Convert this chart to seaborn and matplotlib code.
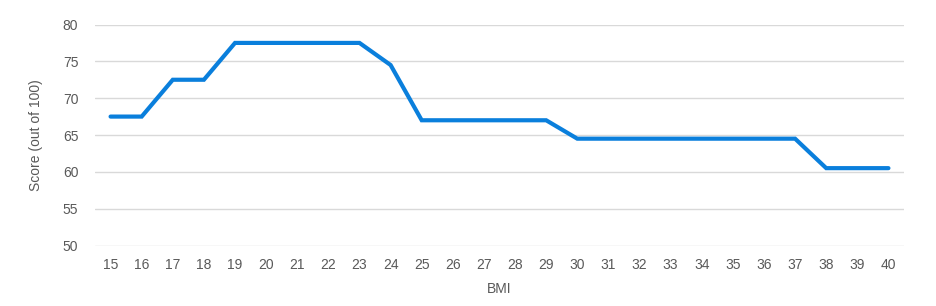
import matplotlib
matplotlib.use("Agg")
import matplotlib.pyplot as plt
import seaborn as sns
import pandas as pd

bmi = list(range(15, 41))
score = [67.5, 67.5, 72.5, 72.5, 77.5, 77.5, 77.5, 77.5, 77.5, 74.5,
         67, 67, 67, 67, 67, 64.5, 64.5, 64.5, 64.5, 64.5, 64.5, 64.5, 64.5,
         60.5, 60.5, 60.5]
y_ticks = [50, 55, 60, 65, 70, 75, 80]

sns.set_theme(style="white")
plt.rcParams['font.family'] = ['Liberation Sans', 'DejaVu Sans']

df = pd.DataFrame({"BMI": [str(b) for b in bmi], "pos": range(len(bmi)), "Score": score})

W, H = 937, 306
fig = plt.figure(figsize=(W / 100, H / 100), dpi=100)
ax = fig.add_axes([95 / W, 1 - 245.5 / H, (904 - 95) / W, (245.5 - 24.5) / H])

for t in y_ticks:
    ax.axhline(t, color="#D9D9D9", lw=1.0, zorder=0)

sns.lineplot(data=df, x="pos", y="Score", ax=ax, color="#0A7FDC", lw=3.0,
             solid_capstyle="round", solid_joinstyle="miter", zorder=3)

ax.set_xlim(-0.5, len(bmi) - 0.5)
ax.set_ylim(50, 80)
ax.set_xticks(range(len(bmi)))
ax.set_xticklabels(df["BMI"])
ax.set_yticks(y_ticks)
ax.tick_params(axis="both", length=0, labelsize=10, labelcolor="#595959")
ax.tick_params(axis="x", pad=9)
ax.tick_params(axis="y", pad=12)
for s in ax.spines.values():
    s.set_visible(False)
ax.set_xlabel("BMI", fontsize=10, color="#595959", labelpad=7)
ax.set_ylabel("Score (out of 100)", fontsize=10, color="#595959", labelpad=14)

fig.savefig("out.png", dpi=100, facecolor="white")
